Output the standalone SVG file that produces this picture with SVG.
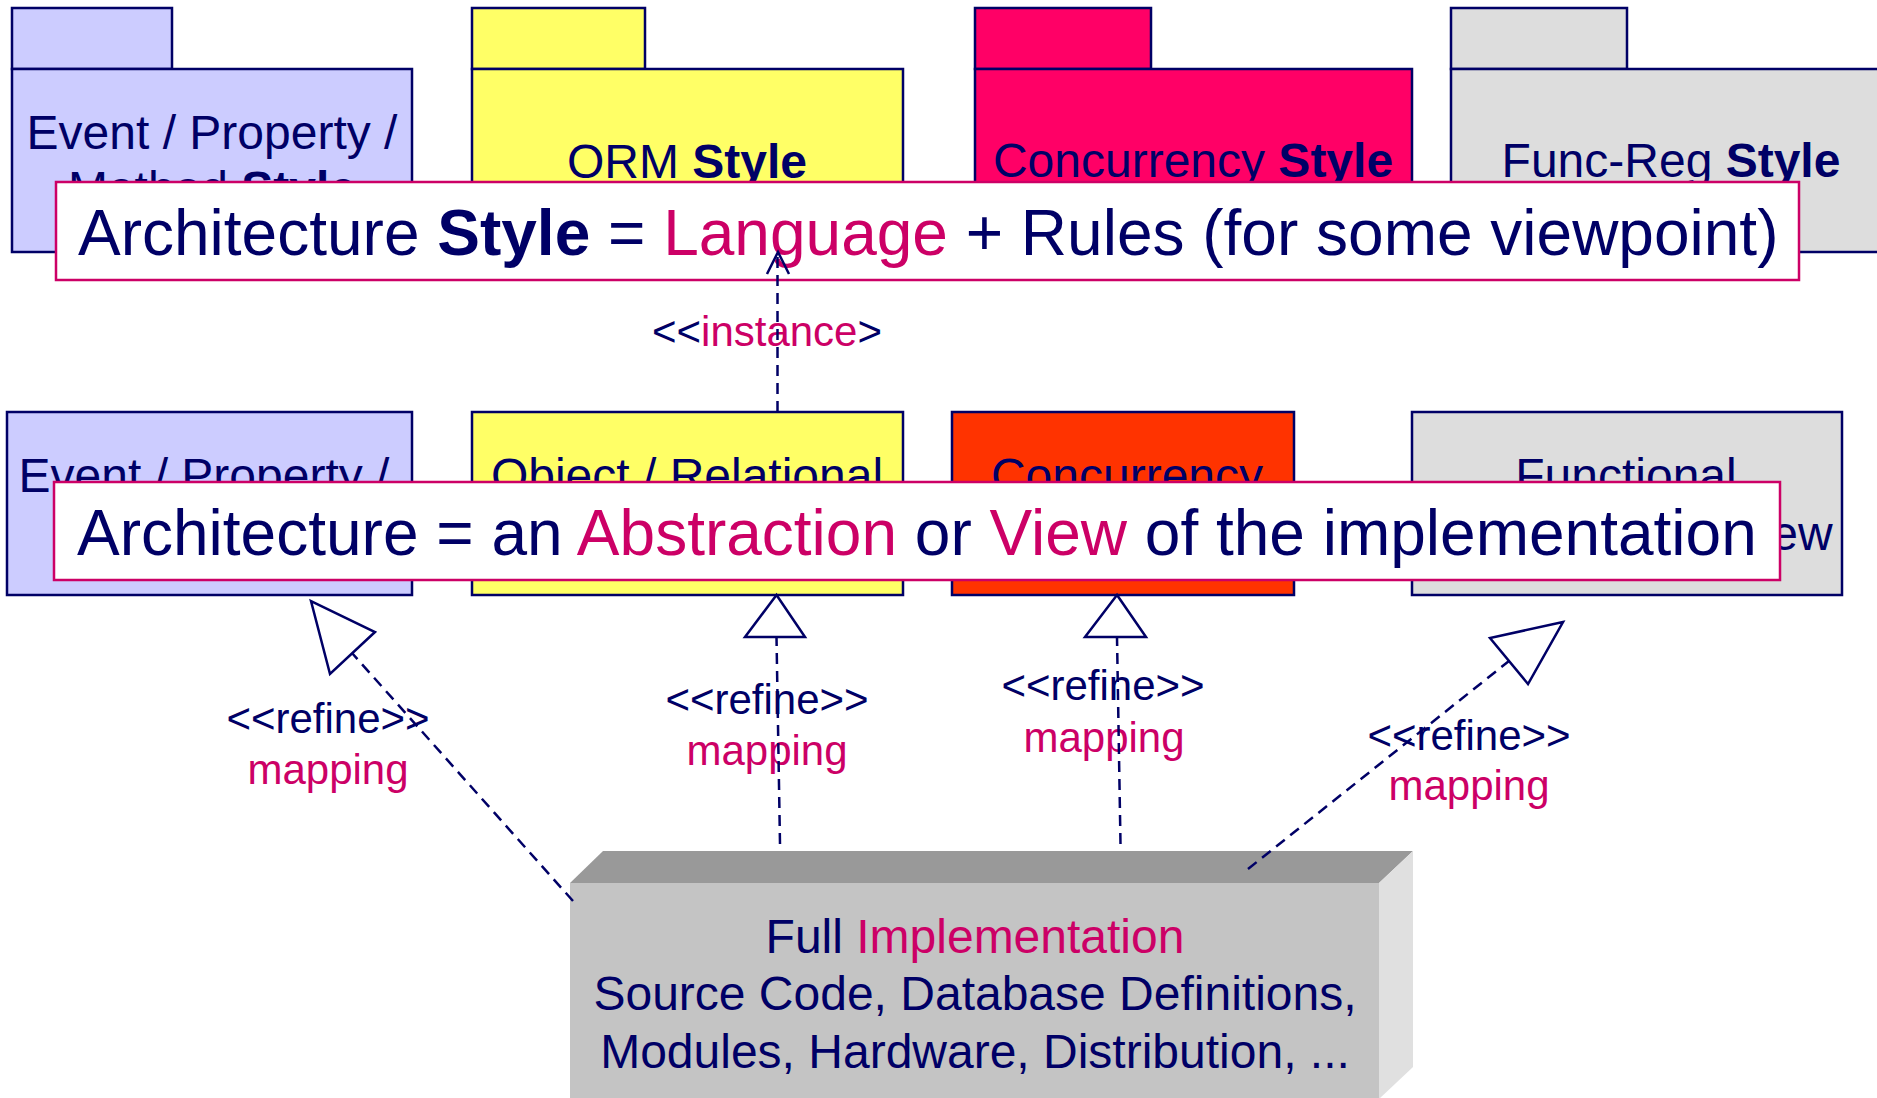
<svg xmlns="http://www.w3.org/2000/svg" width="1877" height="1098" viewBox="0 0 1877 1098">
<style>
text { font-family: "Liberation Sans", Arial, sans-serif; fill: #000066; }
.pk { stroke: #000066; stroke-width: 2.5; }
.lbl { font-size: 48px; text-anchor: middle; }
.big { font-size: 64px; }
.hl { fill: #CC0066; }
.b { font-weight: bold; }
.note { fill: #FFFFFF; stroke: #CC0066; stroke-width: 2.5; }
.ref { font-size: 42px; text-anchor: middle; }
.dash { stroke: #000066; stroke-width: 2.5; stroke-dasharray: 11 7; fill: none; }
.tri { fill: #FFFFFF; stroke: #000066; stroke-width: 2.5; stroke-linejoin: miter; }
</style>
<rect width="1877" height="1098" fill="#FFFFFF"/>

<g id="pkg-event-style">
  <rect class="pk" x="12" y="8" width="160" height="61" fill="#CCCCFF"/>
  <rect class="pk" x="12" y="69" width="400" height="183" fill="#CCCCFF"/>
  <text class="lbl" x="212" y="149">Event / Property /</text>
  <text class="lbl" x="212" y="205">Method <tspan class="b">Style</tspan></text>
</g>
<g id="pkg-orm-style">
  <rect class="pk" x="472" y="8" width="173" height="61" fill="#FFFF66"/>
  <rect class="pk" x="472" y="69" width="431" height="183" fill="#FFFF66"/>
  <text class="lbl" x="687" y="178">ORM <tspan class="b">Style</tspan></text>
</g>
<g id="pkg-concurrency-style">
  <rect class="pk" x="975" y="8" width="176" height="61" fill="#FF0066"/>
  <rect class="pk" x="975" y="69" width="437" height="183" fill="#FF0066"/>
  <text class="lbl" x="1193" y="177">Concurrency <tspan class="b">Style</tspan></text>
</g>
<g id="pkg-funcreg-style">
  <rect class="pk" x="1451" y="8" width="176" height="61" fill="#DDDDDD"/>
  <rect class="pk" x="1451" y="69" width="440" height="183" fill="#DDDDDD"/>
  <text class="lbl" x="1671" y="177">Func-Reg <tspan class="b">Style</tspan></text>
</g>

<g id="note-style">
  <rect class="note" x="56" y="182" width="1743" height="98"/>
  <text class="big" x="78" y="255">Architecture <tspan class="b">Style</tspan> = <tspan class="hl">Language</tspan> + Rules (for some viewpoint)</text>
</g>

<g id="view-event">
  <rect class="pk" x="7" y="412" width="405" height="183" fill="#CCCCFF"/>
  <text class="lbl" x="204" y="492">Event / Property /</text>
  <text class="lbl" x="204" y="549">Method View</text>
</g>
<g id="view-orm">
  <rect class="pk" x="472" y="412" width="431" height="183" fill="#FFFF66"/>
  <text class="lbl" x="687" y="492">Object / Relational</text>
  <text class="lbl" x="687" y="549">View</text>
</g>
<g id="view-concurrency">
  <rect class="pk" x="952" y="412" width="342" height="183" fill="#FF3300"/>
  <text class="lbl" x="1127" y="492">Concurrency</text>
  <text class="lbl" x="1127" y="549">View</text>
</g>
<g id="view-functional">
  <rect class="pk" x="1412" y="412" width="430" height="183" fill="#DDDDDD"/>
  <text class="lbl" x="1626" y="492">Functional</text>
  <text class="lbl" x="1625" y="550">Requirements View</text>
</g>

<g id="note-architecture">
  <rect class="note" x="54" y="482" width="1726" height="98"/>
  <text class="big" x="77" y="555">Architecture = an <tspan class="hl">Abstraction</tspan> or <tspan class="hl">View</tspan> of the implementation</text>
</g>

<g id="implementation">
  <polygon points="570,883 603,851 1413,851 1379,883" fill="#999999"/>
  <polygon points="1379,883 1413,851 1413,1067 1379,1099" fill="#E0E0E0"/>
  <rect x="570" y="883" width="809" height="216" fill="#C4C4C4"/>
  <text class="lbl" x="975" y="953">Full <tspan class="hl">Implementation</tspan></text>
  <text class="lbl" x="975" y="1010">Source Code, Database Definitions,</text>
  <text class="lbl" x="975" y="1068">Modules, Hardware, Distribution, ...</text>
</g>

<g id="labels">
  <text class="ref" x="767" y="346">&lt;&lt;<tspan class="hl">instance</tspan>&gt;</text>
  <text class="ref" x="328" y="733">&lt;&lt;refine&gt;&gt;</text>
  <text class="ref hl" x="328" y="784">mapping</text>
  <text class="ref" x="767" y="714">&lt;&lt;refine&gt;&gt;</text>
  <text class="ref hl" x="767" y="765">mapping</text>
  <text class="ref" x="1103" y="700">&lt;&lt;refine&gt;&gt;</text>
  <text class="ref hl" x="1104" y="752">mapping</text>
  <text class="ref" x="1469" y="750">&lt;&lt;refine&gt;&gt;</text>
  <text class="ref hl" x="1469" y="800">mapping</text>
</g>

<g id="connectors">
  <line class="dash" x1="777.5" y1="412" x2="777.5" y2="254"/>
  <polyline points="767,274 778,252 789,274" fill="none" stroke="#000066" stroke-width="2.5"/>

  <line class="dash" x1="573" y1="901" x2="352" y2="653"/>
  <polygon class="tri" points="311,601 375,632 330,674"/>

  <line class="dash" x1="780" y1="844" x2="776.5" y2="637"/>
  <polygon class="tri" points="776.5,595 745,637 805,637"/>

  <line class="dash" x1="1120.5" y1="844" x2="1117" y2="637"/>
  <polygon class="tri" points="1117,595 1085,637 1146,637"/>

  <line class="dash" x1="1248" y1="869" x2="1509" y2="661"/>
  <polygon class="tri" points="1563,622 1490,638 1528,684"/>
</g>
</svg>
